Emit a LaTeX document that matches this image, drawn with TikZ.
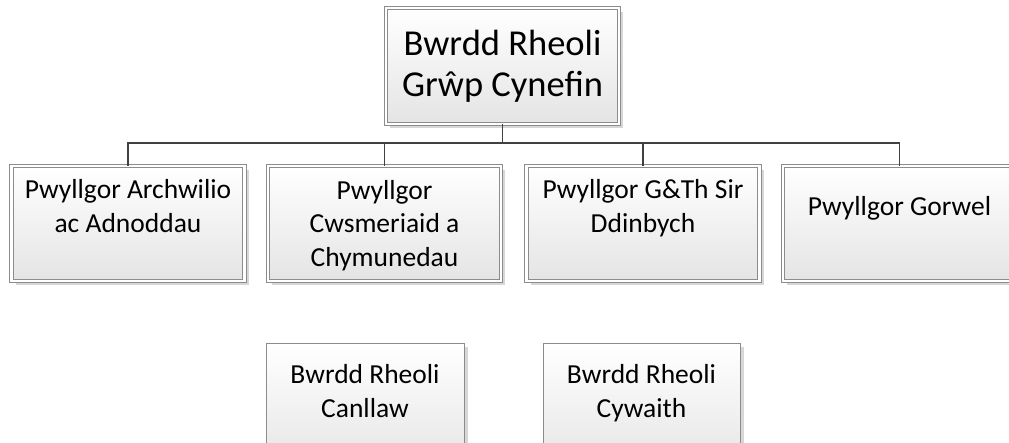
\documentclass[tikz,border=0pt]{standalone}
\usepackage{fontspec}
\setmainfont{Carlito}
\usetikzlibrary{shadows}
\definecolor{bordergray}{RGB}{140,140,140}
\definecolor{linegray}{RGB}{64,64,64}
\definecolor{shadowgray}{RGB}{215,215,215}
\definecolor{fillbottom}{RGB}{228,228,228}
\begin{document}
\begin{tikzpicture}[x=1pt,y=-1pt,
  dbox/.style={draw=bordergray, line width=0.9pt, double=white, double distance=2.6pt,
    top color=white, bottom color=fillbottom, inner sep=0pt,
    minimum width=233pt, minimum height=115pt,
    drop shadow={shadow xshift=4pt, shadow yshift=-4pt, fill=shadowgray, opacity=1}},
  sbox/.style={draw=bordergray, line width=0.9pt,
    top color=white, bottom color=fillbottom, inner sep=0pt,
    minimum height=130pt,
    drop shadow={shadow xshift=4pt, shadow yshift=-4pt, fill=shadowgray, opacity=1}},
  bigtxt/.style={align=center, inner sep=0pt, font=\fontsize{36.5}{41.7}\selectfont},
  txt/.style={align=center, inner sep=0pt, font=\fontsize{27.5}{33.5}\selectfont},
  conn/.style={draw=linegray, line width=1.8pt}]
\useasboundingbox (0,0) rectangle (1009,442);

% boxes
\node[dbox, minimum height=116pt] (top) at (502.5,66) {};
\node[dbox] (b1) at (128,223.5) {};
\node[dbox] (b2) at (384.5,223.5) {};
\node[dbox] (b3) at (643,223.5) {};
\node[dbox] (b4) at (899.5,223.5) {};
\node[sbox, minimum width=198pt] (c1) at (365,408) {};
\node[sbox, minimum width=197pt] (c2) at (641.5,408) {};

% connectors
\draw[conn] (top.south) -- ++(0,18.5) -| (b1.north);
\draw[conn] (top.south) -- ++(0,18.5) -| (b2.north);
\draw[conn] (top.south) -- ++(0,18.5) -| (b3.north);
\draw[conn] (top.south) -- ++(0,18.5) -| (b4.north);

% texts (base anchor = baseline of the last line)
\node[bigtxt, anchor=base] (ttop) at (502.5,96.7) {Bwrdd Rheoli\\Grŵp Cynefin};
\node[txt, anchor=base] (t1) at (128,232) {Pwyllgor Archwilio\\ac Adnoddau};
\node[txt, anchor=base] (t2) at (384.5,266) {Pwyllgor\\Cwsmeriaid a\\Chymunedau};
\node[txt, anchor=base] (t3) at (643,232) {Pwyllgor G\&Th Sir\\Ddinbych};
\node[txt, anchor=base] (t4) at (899.5,215) {Pwyllgor Gorwel};
\node[txt, anchor=base] (tc1) at (365,417) {Bwrdd Rheoli\\Canllaw};
\node[txt, anchor=base] (tc2) at (641.5,417) {Bwrdd Rheoli\\Cywaith};
\end{tikzpicture}
\end{document}
